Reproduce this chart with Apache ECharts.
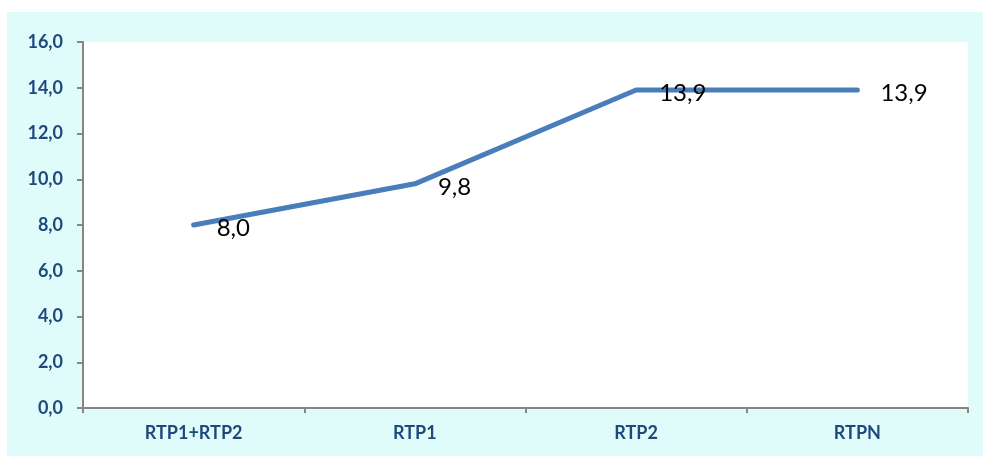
<!DOCTYPE html>
<html>
<head>
<meta charset="utf-8">
<script src="https://cdn.jsdelivr.net/npm/echarts@6/dist/echarts.min.js"></script>
<style>
  html, body { margin: 0; padding: 0; background: #fff; }
  #chart { width: 983px; height: 457px; }
</style>
</head>
<body>
<div id="chart"></div>
<script>
var categories = ['RTP1+RTP2', 'RTP1', 'RTP2', 'RTPN'];
var values = [8.0, 9.8, 13.9, 13.9];

var axisBlue = '#1f497d';
var axisGray = '#868686';

function fmt(v) {
    return v.toFixed(1).replace('.', ',');
}

var myChart = echarts.init(document.getElementById('chart'));
var option = {
    backgroundColor: '#fff',
    animation: false,
    graphic: [
        {
            type: 'rect',
            z: -10,
            shape: { x: 7, y: 12, width: 976, height: 444 },
            style: { fill: '#dffcfa' }
        }
    ],
    grid: {
        left: 83,
        right: 15,
        top: 42,
        bottom: 49,
        show: true,
        backgroundColor: '#fff',
        borderWidth: 0
    },
    xAxis: {
        type: 'category',
        data: categories,
        axisLine: { lineStyle: { color: axisGray, width: 2 } },
        axisTick: { show: true, length: 5, lineStyle: { color: axisGray, width: 2 } },
        axisLabel: {
            color: axisBlue,
            fontFamily: 'Lato',
            fontWeight: 'bold',
            fontSize: 18,
            margin: 16
        },
        splitLine: { show: false }
    },
    yAxis: {
        type: 'value',
        min: 0,
        max: 16,
        interval: 2,
        axisLine: { show: true, lineStyle: { color: axisGray, width: 2 } },
        axisTick: { show: true, length: 6, lineStyle: { color: axisGray, width: 2 } },
        axisLabel: {
            color: axisBlue,
            fontFamily: 'Lato',
            fontWeight: 'bold',
            fontSize: 18,
            margin: 20,
            formatter: function (v) { return fmt(v); }
        },
        splitLine: { show: false }
    },
    series: [
        {
            type: 'line',
            data: values,
            symbol: 'circle',
            symbolSize: 2,
            showSymbol: true,
            itemStyle: { color: 'rgba(0,0,0,0)', borderWidth: 0 },
            lineStyle: { color: '#4a7ebb', width: 5, cap: 'round', join: 'round' },
            label: {
                show: true,
                position: 'right',
                distance: 22,
                offset: [0, 3],
                color: '#000',
                opacity: 1,
                fontFamily: 'Lato',
                fontSize: 24,
                formatter: function (p) { return fmt(p.value); }
            }
        }
    ]
};
myChart.setOption(option);
</script>
</body>
</html>
